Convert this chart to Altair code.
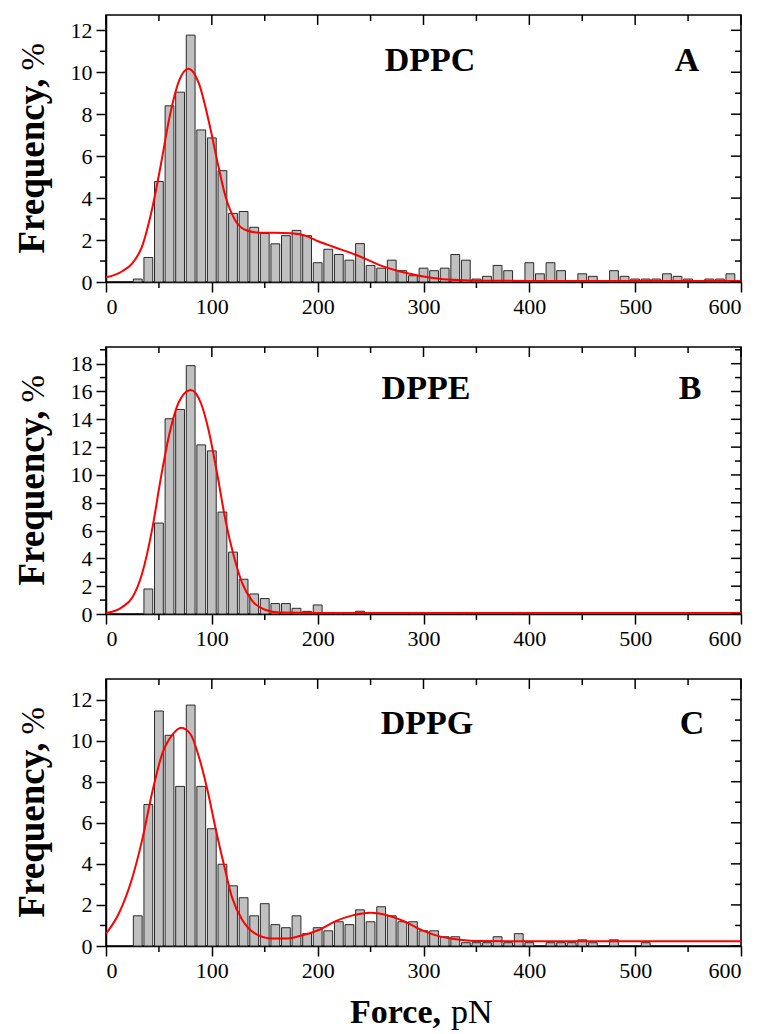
import altair as alt
import pandas as pd

# ---------------- data ----------------
bins_A = list(range(30, 600, 10))
freq_A = [0.14, 1.17, 4.79, 8.40, 9.05, 11.77, 7.25, 6.87, 5.31, 3.27,
          3.36, 2.61, 2.31, 1.82, 2.21, 2.46, 2.21, 0.92, 1.56, 1.31,
          1.04, 1.83, 0.79, 0.66, 1.04, 0.54, 0.30, 0.66, 0.54, 0.66,
          1.31, 1.04, 0.14, 0.27, 0.79, 0.54, 0.0, 0.92, 0.39, 0.92,
          0.54, 0.0, 0.39, 0.27, 0.0, 0.54, 0.27, 0.14, 0.14, 0.14,
          0.39, 0.27, 0.14, 0.0, 0.14, 0.14, 0.39]

bins_B = [40, 50, 60, 70, 80, 90, 100, 110, 120, 130, 140, 150, 160, 170,
          180, 190, 200, 220, 240, 290, 300, 340, 390, 400]
freq_B = [1.80, 6.54, 14.04, 14.71, 17.86, 12.16, 11.73, 7.33, 4.45, 2.50,
          1.44, 1.11, 0.75, 0.75, 0.41, 0.19, 0.65, 0.07, 0.20, 0.07,
          0.07, 0.07, 0.07, 0.07]

bins_C = [30, 40, 50, 60, 70, 80, 90, 100, 110, 120, 130, 140, 150, 160,
          170, 180, 190, 200, 210, 220, 230, 240, 250, 260, 270, 280, 290,
          300, 310, 320, 330, 340, 350, 360, 370, 380, 390, 400, 420, 430,
          440, 450, 460, 480, 510]
freq_C = [1.47, 6.89, 11.44, 10.26, 7.77, 11.73, 7.77, 5.71, 3.98, 2.93,
          2.35, 1.47, 2.06, 1.04, 0.89, 1.47, 0.60, 0.89, 0.74, 1.18,
          1.04, 1.76, 1.18, 1.91, 1.47, 1.18, 1.18, 0.74, 0.74, 0.45,
          0.45, 0.16, 0.16, 0.16, 0.45, 0.16, 0.60, 0.16, 0.16, 0.16,
          0.16, 0.30, 0.16, 0.30, 0.16]

fit_x_A = [0, 15, 25, 34, 44, 52, 60, 69, 78, 88, 97, 105, 113, 122, 132,
           145, 160, 175, 189, 201, 214, 236, 264, 277, 296, 315, 334, 352,
           400, 500, 600]
fit_y_A = [0.22, 0.5, 0.9, 1.69, 3.59, 5.64, 7.85, 9.59, 10.17, 9.43, 7.69,
           5.8, 4.06, 2.95, 2.48, 2.35, 2.35, 2.32, 2.2, 1.93, 1.69, 1.30,
           0.71, 0.51, 0.30, 0.16, 0.09, 0.06, 0.05, 0.05, 0.05]

fit_x_B = [0, 15, 25, 34, 44, 52, 60, 69, 80, 90, 97, 105, 113, 121, 129,
           138, 151, 164, 200, 600]
fit_y_B = [0.07, 0.48, 1.2, 2.88, 6.25, 9.86, 12.98, 15.26, 16.1, 15.1,
           13.2, 10.1, 6.7, 4.1, 2.16, 0.96, 0.29, 0.1, 0.07, 0.07]

fit_x_C = [0, 12, 25, 34, 44, 53, 63, 71, 80, 88, 96, 104, 112, 119, 129,
           141, 157, 170, 182, 201, 217, 233, 250, 268, 283, 299, 315, 334,
           352, 400, 600]
fit_y_C = [0.6, 1.57, 3.35, 5.13, 7.56, 9.34, 10.3, 10.63, 10.3, 9.17, 7.56,
           5.61, 3.83, 2.38, 1.25, 0.6, 0.36, 0.36, 0.47, 0.78, 1.21, 1.49,
           1.62, 1.46, 1.17, 0.76, 0.47, 0.31, 0.24, 0.23, 0.23]

x_ticks = [0, 100, 200, 300, 400, 500, 600]
x_minor = [50, 150, 250, 350, 450, 550]
y_ticks_A = [0, 2, 4, 6, 8, 10, 12]
y_minor_A = [1, 3, 5, 7, 9, 11]
y_ticks_B = [0, 2, 4, 6, 8, 10, 12, 14, 16, 18]
y_minor_B = [1, 3, 5, 7, 9, 11, 13, 15, 17, 19]
y_ticks_C = [0, 2, 4, 6, 8, 10, 12]
y_minor_C = [1, 3, 5, 7, 9, 11]

names = ["DPPC", "DPPE", "DPPG"]
letters = ["A", "B", "C"]
y_title_bold = "Frequency,"
y_title_unit = "%"
x_title_bold = "Force,"
x_title_unit = "pN"

# ---------------- styling ----------------
W, H = 635, 267
FONT = "Liberation Serif"
MAJ, MIN = 10, 6


def text_layer(txt, x, y, size, weight="bold", align="center", angle=0):
    return alt.Chart(pd.DataFrame({"t": [txt]})).mark_text(
        font=FONT, fontSize=size, fontWeight=weight, align=align,
        baseline="alphabetic", angle=angle, color="black"
    ).encode(x=alt.value(x), y=alt.value(y), text="t:N")


def panel(bins, freqs, fx, fy, ymax, yt, ym, name, letter, name_pos, letter_pos, bottom=False):
    xs = alt.Scale(domain=[0, 600], nice=False, zero=False, padding=0)
    ys = alt.Scale(domain=[0, ymax], nice=False, zero=False, padding=0)
    xax = alt.Axis(values=x_ticks, title=None, format="d")
    yax = alt.Axis(values=yt, title=None, format="d")
    bdf = pd.DataFrame({"force": bins, "freq": freqs})
    bdf = bdf[bdf["freq"] > 0]
    bars = alt.Chart(bdf).mark_bar(size=8.8, color="#c0c0c0", stroke="#2a2a2a",
                                   strokeWidth=1).encode(
        x=alt.X("force:Q", scale=xs, axis=xax),
        y=alt.Y("freq:Q", scale=ys, axis=yax),
    )
    fit = alt.Chart(pd.DataFrame({"force": fx, "freq": fy})).mark_line(
        color="#ff0000", strokeWidth=2, interpolate="monotone", clip=True
    ).encode(x=alt.X("force:Q", scale=xs, axis=xax),
             y=alt.Y("freq:Q", scale=ys, axis=yax))

    def xrule(vals, y0, y1):
        return alt.Chart(pd.DataFrame({"force": vals})).mark_rule(
            color="black", strokeWidth=1.5).encode(
            x=alt.X("force:Q", scale=xs, axis=xax), y=alt.value(y0), y2=alt.value(y1))

    def yrule(vals, x0, x1):
        return alt.Chart(pd.DataFrame({"freq": vals})).mark_rule(
            color="black", strokeWidth=1.5).encode(
            y=alt.Y("freq:Q", scale=ys, axis=yax), x=alt.value(x0), x2=alt.value(x1))

    ticks = [
        xrule(x_ticks, 0, MAJ), xrule(x_minor, 0, MIN),       # top, inward
        xrule(x_minor, H, H + MIN),                           # bottom minor, outward
        yrule(yt, W, W - MAJ), yrule(ym, W, W - MIN),         # right, inward
        yrule(ym, 0, -MIN),                                   # left minor, outward
    ]
    split = H / 2 - 70
    texts = [
        text_layer(name, name_pos[0], name_pos[1], 34),
        text_layer(letter, letter_pos[0], letter_pos[1], 34),
        text_layer(y_title_bold, -62, split, 37, align="right", angle=270),
        text_layer(y_title_unit, -62, split - 8, 33, weight="normal", align="left", angle=270),
    ]
    if bottom:
        texts += [
            text_layer(x_title_bold, 335, H + 77, 34, align="right"),
            text_layer(x_title_unit, 345, H + 77, 34, weight="normal", align="left"),
        ]
    return alt.layer(bars, fit, *ticks, *texts).properties(width=W, height=H)


pA = panel(bins_A, freq_A, fit_x_A, fit_y_A, 12.73, y_ticks_A, y_minor_A,
           names[0], letters[0], (324, 56), (581, 56))
pB = panel(bins_B, freq_B, fit_x_B, fit_y_B, 19.2, y_ticks_B, y_minor_B,
           names[1], letters[1], (320, 52), (584, 52))
pC = panel(bins_C, freq_C, fit_x_C, fit_y_C, 13.0, y_ticks_C, y_minor_C,
           names[2], letters[2], (321, 55), (586, 55), bottom=True)

chart = alt.vconcat(pA, pB, pC, spacing=65, bounds="flush").properties(
    padding={"left": 13, "top": 13, "right": 10, "bottom": 4}
).configure_axis(
    labelFont=FONT, labelFontSize=22, labelColor="black", tickColor="black",
    domainColor="black", tickWidth=1.5, domainWidth=1.5, tickSize=MAJ,
    labelPadding=4, grid=False
).configure_view(stroke="black", strokeWidth=1.6)

chart.save("out.html", embed_options={"renderer": "svg", "actions": False})
